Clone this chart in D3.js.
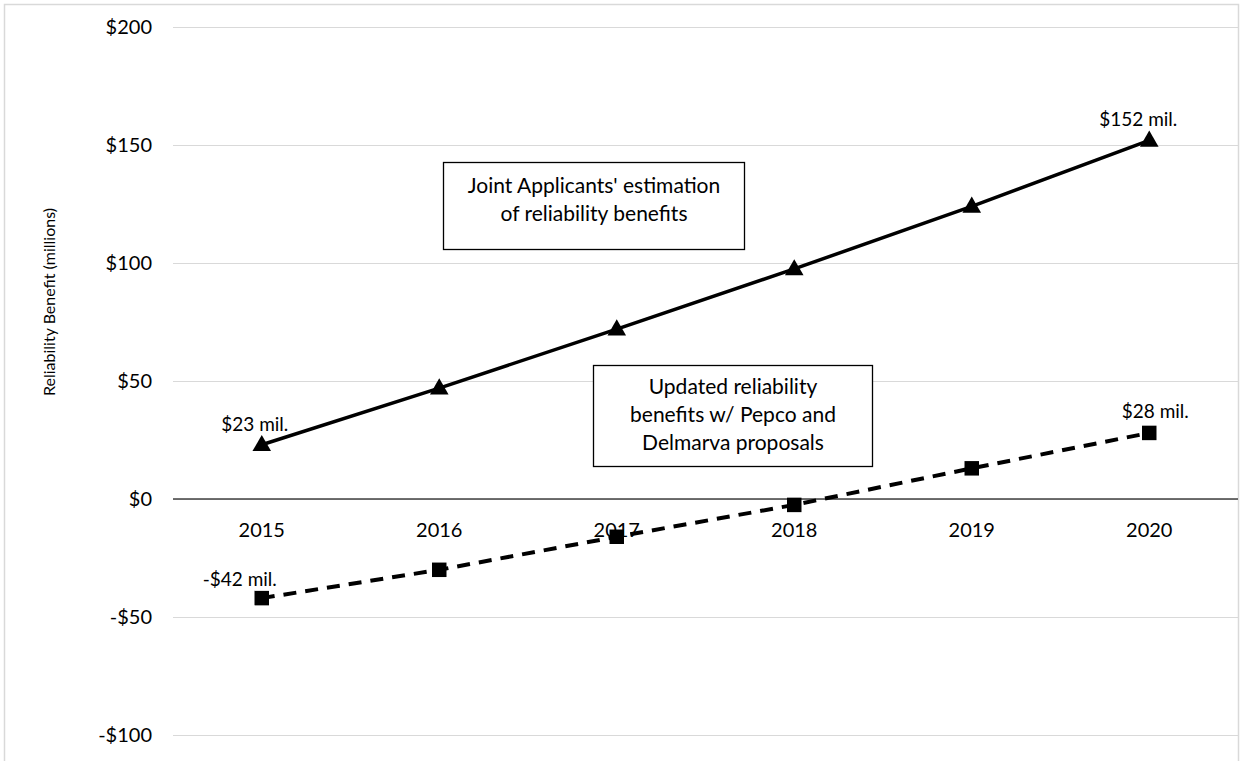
<!DOCTYPE html>
<html>
<head>
<meta charset="utf-8">
<script src="https://cdn.jsdelivr.net/npm/d3@7"></script>
<style>
  body { margin: 0; background: #fff; }
  text { font-family: Lato, "Open Sans", sans-serif; fill: #000; }
</style>
</head>
<body>
<script>
const years = ["2015", "2016", "2017", "2018", "2019", "2020"]
const jointApplicants = [23, 47, 72, 97.5, 124, 152]
const updatedBenefits = [-42, -30, -16, -2.5, 13, 28]
const yTicks = [-100, -50, 0, 50, 100, 150, 200]

const W = 1240, H = 761
const margin = ({top: 27, right: 2, bottom: 26, left: 173})

const svg = d3.select("body").append("svg")
  .attr("width", W)
  .attr("height", H)

// chart frame
svg.append("rect")
  .attr("x", 4.5).attr("y", 4.5)
  .attr("width", W - 6).attr("height", H + 10)
  .attr("fill", "none")
  .attr("stroke", "#d9d9d9")
  .attr("stroke-width", 1.5)

const x = d3.scaleBand()
  .domain(years)
  .range([margin.left, W - margin.right])

const y = d3.scaleLinear()
  .domain([-100, 200])
  .range([735, margin.top])

const cx = d => x(d) + x.bandwidth() / 2

// gridlines + y labels
const yAxis = svg.append("g")
  .attr("transform", `translate(${margin.left},0)`)
  .call(d3.axisLeft(y).tickValues(yTicks).tickSize(-(W - margin.right - margin.left))
    .tickFormat(d => (d < 0 ? "-$" : "$") + Math.abs(d)))
yAxis.select(".domain").remove()
yAxis.selectAll(".tick line").attr("stroke", "#d9d9d9").attr("stroke-width", 1)
yAxis.selectAll(".tick text")
  .attr("x", -21)
  .style("font-size", "20px")
  .style("font-family", "Lato, sans-serif")

// zero axis line
svg.append("line")
  .attr("x1", margin.left).attr("x2", W - margin.right)
  .attr("y1", y(0)).attr("y2", y(0))
  .attr("stroke", "#404040").attr("stroke-width", 1.3)

// year labels
svg.append("g").selectAll("text")
  .data(years)
  .join("text")
  .attr("x", d => cx(d))
  .attr("y", 537)
  .attr("text-anchor", "middle")
  .style("font-size", "20px")
  .text(d => d)

// y title
svg.append("text")
  .attr("transform", `translate(55,${302}) rotate(-90)`)
  .attr("text-anchor", "middle")
  .style("font-size", "16px")
  .text("Reliability Benefit (millions)")

const line = d3.line().x((d, i) => cx(years[i])).y(d => y(d))

// updated series (dashed, squares)
svg.append("path")
  .datum(updatedBenefits)
  .attr("d", line)
  .attr("fill", "none")
  .attr("stroke", "#000")
  .attr("stroke-width", 4)
  .attr("stroke-dasharray", "13,9")

svg.append("g").selectAll("path")
  .data(updatedBenefits)
  .join("path")
  .attr("transform", (d, i) => `translate(${cx(years[i])},${y(d)})`)
  .attr("d", d3.symbol(d3.symbolSquare, 210))
  .attr("fill", "#000")

// joint applicants series (solid, triangles)
svg.append("path")
  .datum(jointApplicants)
  .attr("d", line)
  .attr("fill", "none")
  .attr("stroke", "#000")
  .attr("stroke-width", 3.5)

svg.append("g").selectAll("path")
  .data(jointApplicants)
  .join("path")
  .attr("transform", (d, i) => `translate(${cx(years[i])},${y(d) + 1})`)
  .attr("d", d3.symbol(d3.symbolTriangle, 150))
  .attr("fill", "#000")

// data labels
const labels = [
  {i: 0, v: jointApplicants[0], dx: -7, dy: -14},
  {i: 5, v: jointApplicants[5], dx: -11, dy: -14},
  {i: 0, v: updatedBenefits[0], dx: -22, dy: -12},
  {i: 5, v: updatedBenefits[5], dx: 6, dy: -15}
]
svg.append("g").selectAll("text")
  .data(labels)
  .join("text")
  .attr("x", d => cx(years[d.i]) + d.dx)
  .attr("y", d => y(d.v) + d.dy)
  .attr("text-anchor", "middle")
  .style("font-size", "19px")
  .text(d => (d.v < 0 ? "-$" : "$") + Math.abs(d.v) + " mil.")

// annotation boxes
function note(x0, y0, w, h, lines, firstY) {
  svg.append("rect")
    .attr("x", x0).attr("y", y0).attr("width", w).attr("height", h)
    .attr("fill", "#fff").attr("stroke", "#000").attr("stroke-width", 1.3)
  svg.append("g").selectAll("text")
    .data(lines)
    .join("text")
    .attr("x", x0 + w / 2)
    .attr("y", (d, i) => firstY + i * 28)
    .attr("text-anchor", "middle")
    .style("font-size", "21px")
    .text(d => d)
}
note(443.5, 162.5, 301, 87, ["Joint Applicants' estimation", "of reliability benefits"], 193)
note(593.5, 365.5, 279, 101, ["Updated reliability", "benefits w/ Pepco and", "Delmarva proposals"], 394)
</script>
</body>
</html>
